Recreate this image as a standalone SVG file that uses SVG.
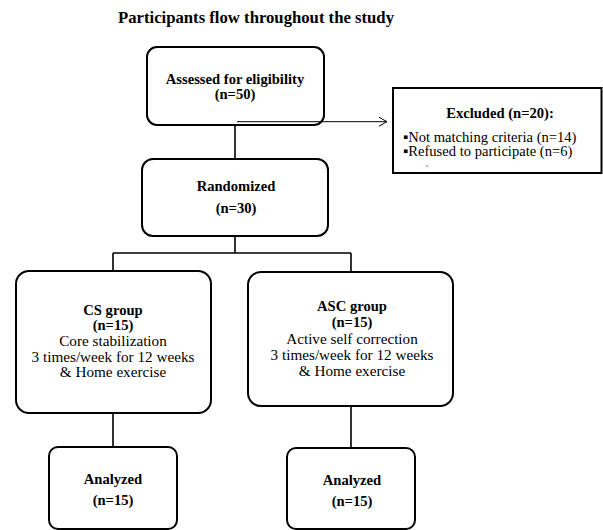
<svg xmlns="http://www.w3.org/2000/svg" width="603" height="530" viewBox="0 0 603 530">
<style>
text{font-family:"Liberation Serif","Times New Roman","DejaVu Serif",serif;fill:#000;text-anchor:middle}
.b{font-weight:bold;font-size:14.6px}
.r{font-size:15.2px}
.x{font-size:14.6px;text-anchor:start}
.t{font-weight:bold;font-size:16.7px}
.box{fill:#fff;stroke:#000;stroke-width:2}
.ln{fill:none;stroke:#000;stroke-width:1.6}
</style>
<defs>
<marker id="ah" markerWidth="12" markerHeight="12" refX="10" refY="6" orient="auto" markerUnits="userSpaceOnUse">
<path d="M2,1.5 L10,6 L2,10.5" fill="none" stroke="#000" stroke-width="1"/>
</marker>
</defs>
<rect width="603" height="530" fill="#fff"/>
<text class="t" x="256" y="23">Participants flow throughout the study</text>
<g id="assessed">
<rect class="box" x="147" y="47" width="177" height="78" rx="10"/>
<text class="b" x="235" y="83.5">Assessed for eligibility</text>
<text class="b" x="235" y="98.5">(n=50)</text>
</g>
<g id="excluded">
<rect class="box" x="393" y="88" width="208.5" height="85"/>
<text class="b" x="500" y="118">Excluded (n=20):</text>
<text class="x" x="403" y="141.5">▪Not matching criteria (n=14)</text>
<text class="x" x="403" y="156">▪Refused to participate (n=6)</text>
<rect x="426" y="165" width="2" height="2" fill="#f4a0a0"/>
</g>
<g id="randomized">
<rect class="box" x="142" y="159" width="186" height="77" rx="11"/>
<text class="b" x="236" y="191">Randomized</text>
<text class="b" x="236" y="213">(n=30)</text>
</g>
<g id="cs">
<rect class="box" x="16" y="271" width="195" height="142" rx="13"/>
<text class="b" x="113" y="314.5">CS group</text>
<text class="b" x="113" y="330">(n=15)</text>
<text class="r" x="113" y="346">Core stabilization</text>
<text class="r" x="113" y="361.5">3 times/week for 12 weeks</text>
<text class="r" x="113" y="377">&amp; Home exercise</text>
</g>
<g id="asc">
<rect class="box" x="248" y="272" width="205" height="134" rx="13"/>
<text class="b" x="352" y="311">ASC group</text>
<text class="b" x="352" y="327">(n=15)</text>
<text class="r" x="352" y="343.5">Active self correction</text>
<text class="r" x="352" y="360">3 times/week for 12 weeks</text>
<text class="r" x="352" y="376">&amp; Home exercise</text>
</g>
<g id="analyzed-cs">
<rect class="box" x="49" y="447" width="128" height="82" rx="9"/>
<text class="b" x="113" y="484">Analyzed</text>
<text class="b" x="113" y="505">(n=15)</text>
</g>
<g id="analyzed-asc">
<rect class="box" x="287" y="448" width="128" height="81" rx="9"/>
<text class="b" x="352" y="485">Analyzed</text>
<text class="b" x="352" y="506">(n=15)</text>
</g>
<g id="connectors">
<path class="ln" d="M235,125 V159"/>
<path d="M237,121.7 H387" fill="none" stroke="#000" stroke-width="1" marker-end="url(#ah)"/>
<path class="ln" d="M235,236 V253 M113,253 H351 M113,253 V271 M351,253 V272"/>
<path class="ln" d="M113,413 V447 M351,406 V448"/>
</g>
</svg>
